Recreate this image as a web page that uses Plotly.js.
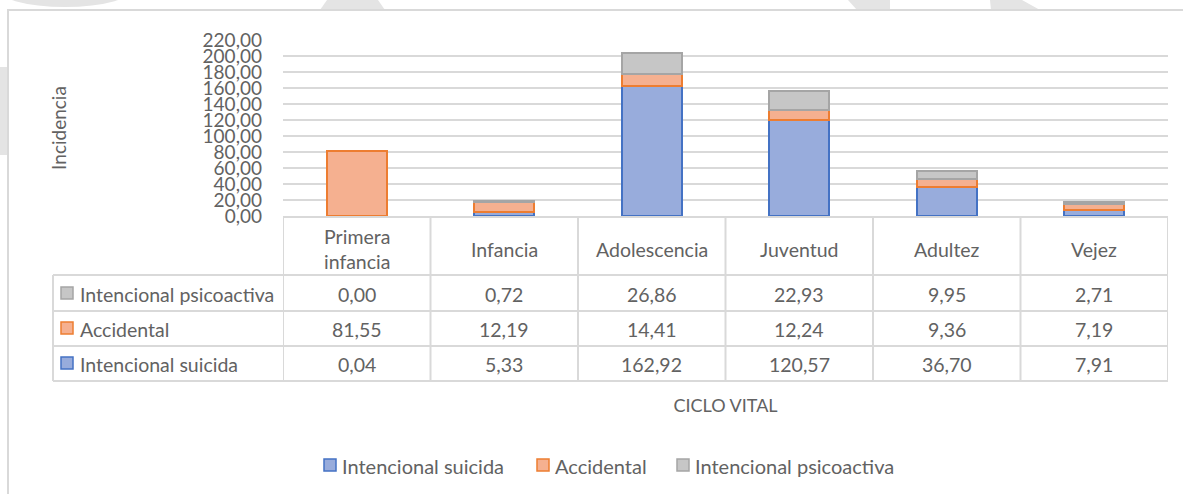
<!DOCTYPE html>
<html>
<head>
<meta charset="utf-8">
<script src="https://cdn.plot.ly/plotly-3.0.1.min.js"></script>
<style>
  html, body { margin: 0; padding: 0; background: #ffffff; }
  #chart { width: 1183px; height: 494px; }
</style>
</head>
<body>
<div id="chart"></div>
<script>
// ---- Data ----
const categories = ['Primera infancia', 'Infancia', 'Adolescencia', 'Juventud', 'Adultez', 'Vejez'];
const headerLabels = ['Primera<br>infancia', 'Infancia', 'Adolescencia', 'Juventud', 'Adultez', 'Vejez'];
const suicida = [0.04, 5.33, 162.92, 120.57, 36.70, 7.91];
const accidental = [81.55, 12.19, 14.41, 12.24, 9.36, 7.19];
const psicoactiva = [0.00, 0.72, 26.86, 22.93, 9.95, 2.71];
const seriesNames = ['Intencional suicida', 'Accidental', 'Intencional psicoactiva'];
const yTitle = 'Incidencia';
const xTitle = 'CICLO VITAL';

// ---- Styles ----
const FONT = 'Lato, "Liberation Sans", Arial, sans-serif';
const TXT = '#626262';
const GRID = '#d9d9d9';
const WM = '#e4e4e4';
const fills = ['#98acdc', '#f5b090', '#c6c6c6'];
const borders = ['#4472c4', '#ed7d31', '#a5a5a5'];
const FS = 19.5;
const FS_LEG = 20;

// plot-area geometry in pixels
const PL = 283, PR = 1168, PT = 40, PB = 216;
const PW = PR - PL, PH = PB - PT;
const px = v => (v - PL) / PW;
const py = v => (PB - v) / PH;

const fmt = v => v.toFixed(2).replace('.', ',');

const seriesData = [suicida, accidental, psicoactiva];
const traces = seriesData.map((vals, i) => ({
  type: 'bar',
  name: seriesNames[i],
  x: categories,
  y: vals,
  showlegend: false,
  marker: { color: fills[i], line: { color: borders[i], width: vals.map(v => (v < 0.5 ? 0 : 2)) } },
  hoverinfo: 'skip'
}));

const shapes = [];
const annotations = [];

// watermark fragments (background)
shapes.push({ type: 'circle', xref: 'paper', yref: 'paper', layer: 'below',
  x0: px(-5), x1: px(135), y0: py(-33), y1: py(7), fillcolor: WM, line: { width: 0 } });
const wmPaths = [
  [[327, 0], [378, 0], [385, 10], [320, 10]],
  [[848, 0], [890, 0], [890, 10], [857, 10]],
  [[990, 0], [1022, 0], [1040, 10], [991, 10]],
  [[0, 67], [7, 67], [7, 155], [0, 155]]
];
wmPaths.forEach(pts => {
  const d = pts.map((p, k) => (k ? 'L' : 'M') + px(p[0]).toFixed(5) + ',' + py(p[1]).toFixed(5)).join(' ') + ' Z';
  shapes.push({ type: 'path', xref: 'paper', yref: 'paper', layer: 'below', path: d,
    fillcolor: WM, line: { width: 0 } });
});
// white chart area + frame
shapes.push({ type: 'rect', xref: 'paper', yref: 'paper', layer: 'below',
  x0: px(8), x1: px(1195), y0: py(10), y1: py(505), fillcolor: '#ffffff',
  line: { color: GRID, width: 2 } });

// data table lines
const tableTop = PB, headerBottom = 275, rowLines = [311, 346, 381];
const tableBottom = 381, keyLeft = 53;
for (let i = 0; i <= categories.length; i++) {
  shapes.push({ type: 'line', xref: 'x', yref: 'paper', x0: i - 0.5, x1: i - 0.5,
    y0: py(tableTop), y1: py(tableBottom), line: { color: GRID, width: 2 } });
}
[headerBottom].concat(rowLines).forEach(yv => {
  shapes.push({ type: 'line', xref: 'paper', yref: 'paper', x0: px(keyLeft), x1: px(PR),
    y0: py(yv), y1: py(yv), line: { color: GRID, width: 2 } });
});
shapes.push({ type: 'line', xref: 'paper', yref: 'paper', x0: px(keyLeft), x1: px(keyLeft),
  y0: py(headerBottom), y1: py(tableBottom), line: { color: GRID, width: 2 } });

// header labels
headerLabels.forEach((lab, i) => {
  annotations.push({ xref: 'x', yref: 'paper', x: i, y: py(249), text: lab, showarrow: false,
    xanchor: 'center', yanchor: 'middle', font: { family: FONT, size: FS, color: TXT } });
});

// rows: top row psicoactiva, then accidental, then suicida
const rowOrder = [2, 1, 0];
const rowCenters = [294, 329, 364];
rowOrder.forEach((s, r) => {
  const yc = rowCenters[r];
  shapes.push({ type: 'rect', xref: 'paper', yref: 'paper', x0: px(61), x1: px(73),
    y0: py(yc - 7), y1: py(yc + 5), fillcolor: fills[s], line: { color: borders[s], width: 1.5 } });
  annotations.push({ xref: 'paper', yref: 'paper', x: px(78), y: py(yc), text: seriesNames[s],
    showarrow: false, xanchor: 'left', yanchor: 'middle', font: { family: FONT, size: FS, color: TXT } });
  seriesData[s].forEach((v, i) => {
    annotations.push({ xref: 'x', yref: 'paper', x: i, y: py(yc), text: fmt(v), showarrow: false,
      xanchor: 'center', yanchor: 'middle', font: { family: FONT, size: FS, color: TXT } });
  });
});

// legend (bottom)
const legendY = 466;
const legendKeyX = [324, 537, 677];
seriesNames.forEach((name, s) => {
  const kx = legendKeyX[s];
  shapes.push({ type: 'rect', xref: 'paper', yref: 'paper', x0: px(kx), x1: px(kx + 12),
    y0: py(legendY - 7), y1: py(legendY + 5), fillcolor: fills[s], line: { color: borders[s], width: 1.5 } });
  annotations.push({ xref: 'paper', yref: 'paper', x: px(kx + 16), y: py(legendY), text: name,
    showarrow: false, xanchor: 'left', yanchor: 'middle', font: { family: FONT, size: FS_LEG, color: TXT } });
});

const layout = {
  width: 1183, height: 494,
  margin: { l: PL, r: 1183 - PR, t: PT, b: 494 - PB, pad: 0 },
  paper_bgcolor: '#ffffff', plot_bgcolor: 'rgba(0,0,0,0)',
  separators: ',.',
  barmode: 'stack',
  bargap: 0.593,
  font: { family: FONT, size: FS, color: TXT },
  showlegend: false,
  xaxis: {
    type: 'category', range: [-0.5, categories.length - 0.5],
    showticklabels: false, ticks: '', showgrid: false, zeroline: false,
    showline: true, linecolor: GRID, linewidth: 2, fixedrange: true,
    title: { text: xTitle, standoff: 182, font: { family: FONT, size: 18, color: TXT } }
  },
  yaxis: {
    range: [0, 220], tickmode: 'linear', tick0: 0, dtick: 20, tickformat: '.2f',
    showgrid: true, gridcolor: GRID, gridwidth: 2, zeroline: false, showline: false,
    ticks: '', ticklabelstandoff: 20, fixedrange: true,
    tickfont: { family: FONT, size: 19, color: TXT },
    title: { text: yTitle, standoff: 130, font: { family: FONT, size: 19, color: TXT } }
  },
  shapes: shapes,
  annotations: annotations
};

Plotly.newPlot('chart', traces, layout, { staticPlot: true, displayModeBar: false });
</script>
</body>
</html>
